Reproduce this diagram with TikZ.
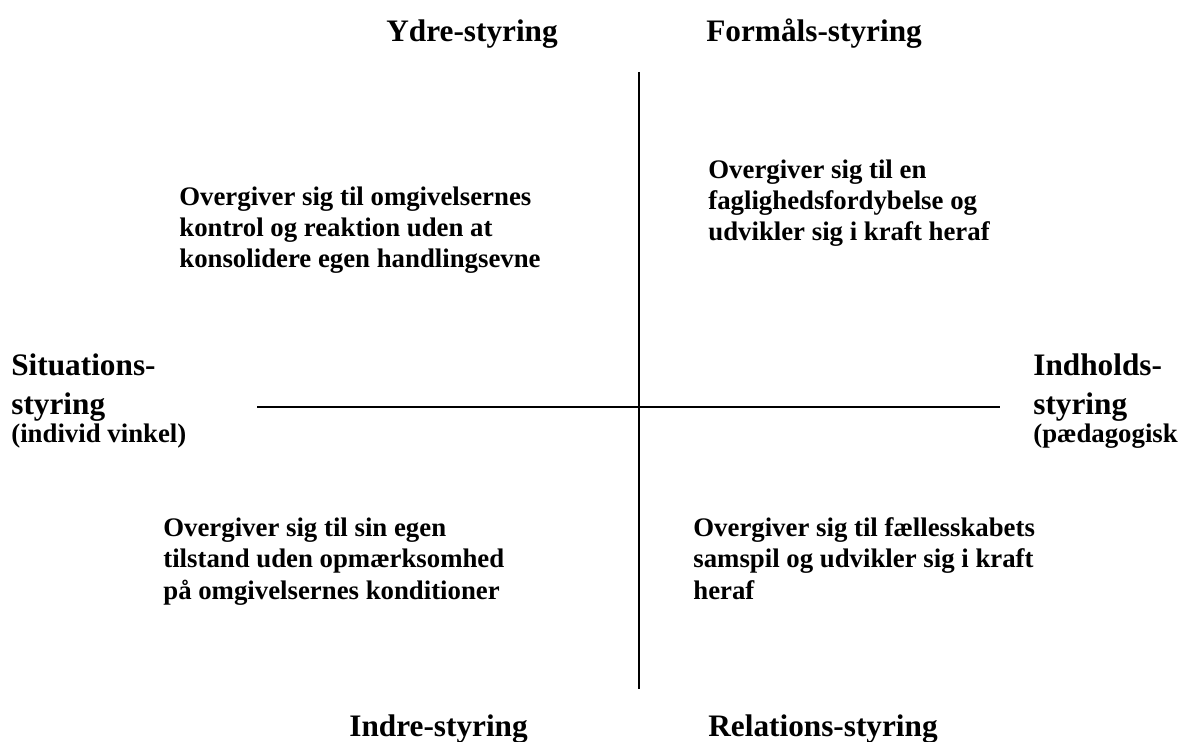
\documentclass[tikz,border=0pt]{standalone}
\usepackage{fontspec}
\setmainfont{Liberation Serif}
\usetikzlibrary{positioning}

\begin{document}
\begin{tikzpicture}[x=0.02cm,y=-0.02cm,
	head/.style={font=\fontsize{17.8}{22.2}\selectfont\bfseries,inner sep=0pt,anchor=base west,align=left},
	body/.style={font=\fontsize{15.25}{17.8}\selectfont\bfseries,inner sep=0pt,anchor=base west,align=left},
	axis/.style={line width=1.1pt}]
	\useasboundingbox (0,0) rectangle (1192,742);
	% axes
	\coordinate (top)    at (639,72);
	\coordinate (bottom) at (639,689);
	\coordinate (left)   at (257,407);
	\coordinate (right)  at (1000,407);
	\draw[axis] (top) -- (bottom);
	\draw[axis] (left) -- (right);
	
	\node[head] (ydre)     at (386,42)  {Ydre-styring};
	\node[head] (formaal)  at (706,42)  {Formåls-styring};
	\node[head] (indre)    at (349,736) {Indre-styring};
	\node[head] (relation) at (708,736) {Relations-styring};
	
	% base of a multi-line node = its last line
	\node[head] (situation) at (11,415)   {Situations-\\styring};
	\node[body] (individ)   at (11,443)   {(individ vinkel)};
	\node[head] (indhold)   at (1033,415) {Indholds-\\styring};
	\node[body] (paedagog)  at (1033,443) {(pædagogisk};
	
	\node[body] (tl) at (179,268) {Overgiver sig til omgivelsernes\\kontrol og reaktion uden at\\konsolidere egen handlingsevne};
	\node[body] (tr) at (708,241) {Overgiver sig til en\\faglighedsfordybelse og\\udvikler sig i kraft heraf};
	\node[body] (bl) at (163,599) {Overgiver sig til sin egen\\tilstand uden opmærksomhed\\på omgivelsernes konditioner};
	\node[body] (br) at (693,599) {Overgiver sig til fællesskabets\\samspil og udvikler sig i kraft\\heraf};
	
\end{tikzpicture}
\end{document}
